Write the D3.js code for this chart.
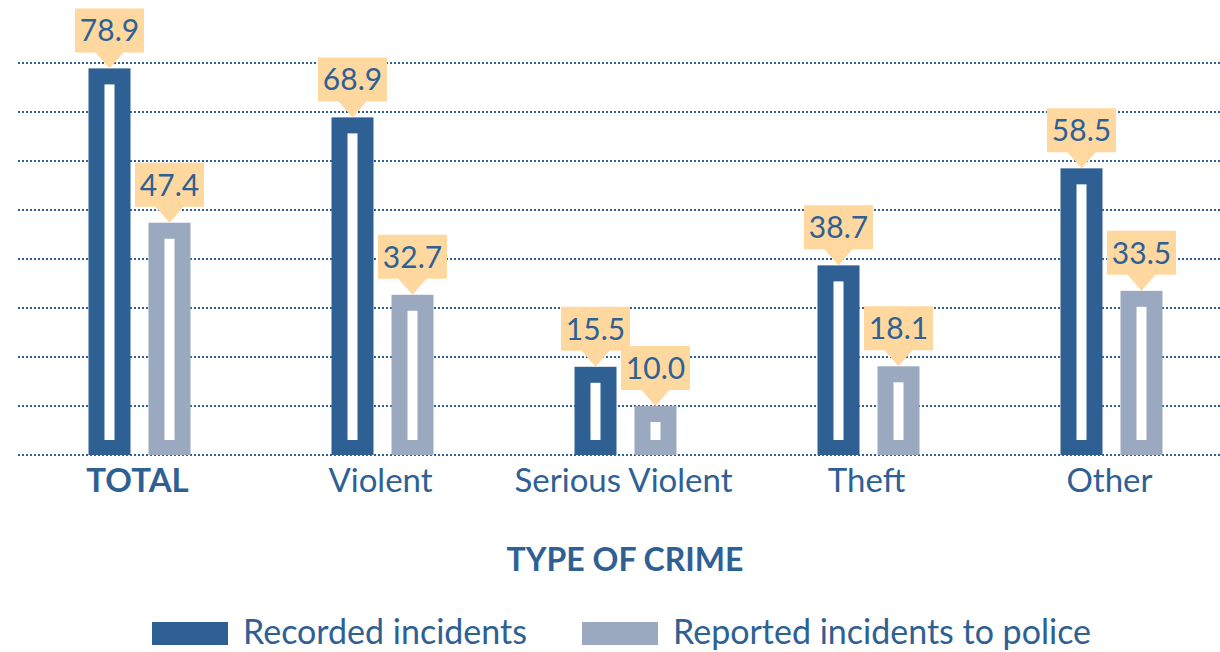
<!DOCTYPE html>
<html>
<head>
<meta charset="utf-8">
<script src="https://cdn.jsdelivr.net/npm/d3@7"></script>
<style>
  body { margin: 0; background: #fff; }
  svg { display: block; font-family: Lato, "Open Sans", sans-serif; }
</style>
</head>
<body>
<svg width="1220" height="652"></svg>
<script>
// data
var categories = ["TOTAL", "Violent", "Serious Violent", "Theft", "Other"];
var recorded = [78.9, 68.9, 15.5, 38.7, 58.5];
var reported = [47.4, 32.7, 10.0, 18.1, 33.5];
// bar heights as drawn in the source (the 15.5 bar is drawn at about 18)
var recordedDrawn = [78.9, 68.9, 18.0, 38.7, 58.5];
var seriesNames = ["Recorded incidents", "Reported incidents to police"];
var yTicks = [0, 10, 20, 30, 40, 50, 60, 70, 80];

window.onload = function() {
	var dark = "#2e6094", light = "#9aa9bf", tag = "#ffd89f";
	var svg = d3.select("svg");

	var x = d3.scaleBand().domain(categories).range([18, 1233]);
	var sub = d3.scaleBand().domain([0, 1]).range([-51, 51]).paddingInner(0.3);
	var y = d3.scaleLinear().domain([0, 80]).range([455, 63]);

	// dotted grid
	svg.append("g").selectAll("line")
		.data(yTicks)
		.enter().append("line")
		.attr("x1", 18).attr("x2", 1220)
		.attr("y1", function(d) { return y(d); })
		.attr("y2", function(d) { return y(d); })
		.attr("stroke", dark)
		.attr("stroke-width", 2)
		.attr("stroke-dasharray", "2,2");

	var rows = [];
	categories.forEach(function(c, i) {
		rows.push({cat: c, s: 0, v: recordedDrawn[i], label: recorded[i]});
		rows.push({cat: c, s: 1, v: reported[i], label: reported[i]});
	});

	var bw = sub.bandwidth(), inset = 16;
	var bar = svg.append("g").selectAll("g")
		.data(rows)
		.enter().append("g")
		.attr("transform", function(d) {
			return "translate(" + (x(d.cat) + x.bandwidth() / 2 + sub(d.s)) + ",0)";
		});

	bar.append("rect")
		.attr("x", 0)
		.attr("width", bw)
		.attr("y", function(d) { return y(d.v); })
		.attr("height", function(d) { return y(0) - y(d.v); })
		.attr("fill", function(d) { return d.s ? light : dark; });

	bar.append("rect")
		.attr("x", inset)
		.attr("width", bw - 2 * inset)
		.attr("y", function(d) { return y(d.v) + inset; })
		.attr("height", function(d) { return Math.max(0, y(0) - y(d.v) - inset - 15); })
		.attr("fill", "#fff");

	// value tags
	var tw = 69, th = 44, gap = 16;
	bar.append("path")
		.attr("d", function(d) {
			var cx = bw / 2, b = y(d.v) - gap, t = b - th;
			return "M" + (cx - tw / 2) + "," + t + "H" + (cx + tw / 2) + "V" + b +
				"H" + (cx + 14) + "L" + cx + "," + y(d.v) + "L" + (cx - 14) + "," + b +
				"H" + (cx - tw / 2) + "Z";
		})
		.attr("fill", tag);

	bar.append("text")
		.attr("x", bw / 2)
		.attr("y", function(d) { return y(d.v) - gap - 11; })
		.attr("text-anchor", "middle")
		.attr("font-size", 30)
		.attr("fill", dark)
		.text(function(d) { return d.label.toFixed(1); });

	// category labels
	svg.append("g").selectAll("text")
		.data(categories)
		.enter().append("text")
		.attr("x", function(d) { return x(d) + x.bandwidth() / 2 - 2; })
		.attr("y", 492)
		.attr("text-anchor", "middle")
		.attr("font-size", 33)
		.attr("font-weight", function(d, i) { return i == 0 ? "bold" : "normal"; })
		.attr("fill", dark)
		.text(function(d) { return d; });

	svg.append("text")
		.attr("x", 625).attr("y", 571)
		.attr("text-anchor", "middle")
		.attr("font-size", 32)
		.attr("font-weight", "bold")
		.attr("fill", dark)
		.text("TYPE OF CRIME");

	// legend
	var lx = [152, 582];
	var leg = svg.append("g").selectAll("g")
		.data(seriesNames)
		.enter().append("g")
		.attr("transform", function(d, i) { return "translate(" + lx[i] + ",622)"; });
	leg.append("rect")
		.attr("width", 76).attr("height", 23)
		.attr("fill", function(d, i) { return i ? light : dark; });
	leg.append("text")
		.attr("x", 91).attr("y", 22)
		.attr("font-size", 34)
		.attr("fill", dark)
		.text(function(d) { return d; });
};
</script>
</body>
</html>
